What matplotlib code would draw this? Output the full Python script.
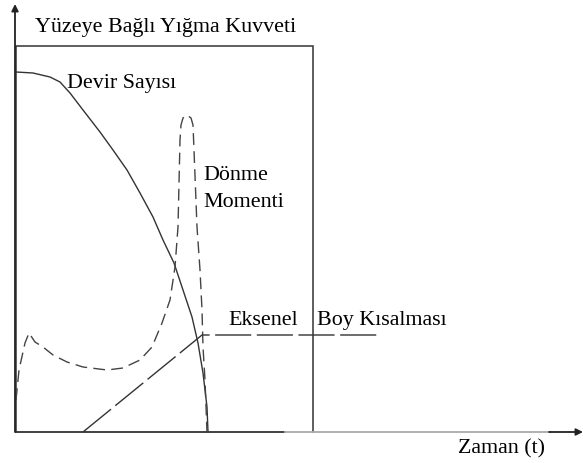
import matplotlib
matplotlib.use("Agg")
import matplotlib.pyplot as plt

# ---- data (time t, value) in schematic units; origin at the axes corner ----
devir_t = [0, 17, 34, 44, 54, 67, 84, 97, 111, 124, 137, 147, 158, 167, 176, 182, 187, 191, 192]
devir_v = [360, 359, 355, 350, 339, 322, 300, 282, 262, 239, 215, 192, 169, 142, 115, 89, 59, 25, 0]

donme_t = [0, 3, 9, 13, 19, 27, 37, 51, 67, 91, 107, 124, 136, 146, 154, 159, 162,
           164, 165, 167, 171, 175, 177, 178, 181, 184, 186, 187, 189, 191]
donme_v = [32, 62, 89, 99, 90, 85, 77, 70, 65, 62, 64, 72, 85, 109, 132, 165, 205,
           292, 307, 314, 317, 314, 307, 282, 205, 162, 122, 85, 52, 0]

eksenel_t = [67, 186, 365]
eksenel_v = [0, 97, 97]

box_t = [0, 0, 297, 297]
box_v = [0, 386, 386, 0]

title = "Yüzeye Bağlı Yığma Kuvveti"
lbl_devir = "Devir Sayısı"
lbl_donme1 = "Dönme"
lbl_donme2 = "Momenti"
lbl_eks1 = "Eksenel"
lbl_eks2 = "Boy Kısalması"
lbl_x = "Zaman (t)"

fig = plt.figure(figsize=(5.83, 4.63), dpi=100)
ax = fig.add_axes([0, 0, 1, 1])
ax.set_xlim(-16, 567)
ax.set_ylim(-31, 432)
ax.axis("off")

font = dict(family=["Liberation Serif", "DejaVu Serif"], fontsize=15.8, color="black")

# box
ax.plot(box_t, box_v, color="#333333", lw=1.1, solid_joinstyle="miter")

# axes arrows
ax.plot([0, 269], [0, 0], color="#333333", lw=1.3)
ax.plot([269, 535], [0, 0], color="#aaaaaa", lw=1.3)
ax.annotate("", xy=(567, 0), xytext=(533, 0),
            arrowprops=dict(arrowstyle="-|>", color="#222222", lw=1.3,
                            mutation_scale=10, shrinkA=0, shrinkB=0))
ax.annotate("", xy=(-1, 428), xytext=(-1, 0),
            arrowprops=dict(arrowstyle="-|>", color="#222222", lw=1.3,
                            mutation_scale=10, shrinkA=0, shrinkB=0))

# curves
ax.plot(devir_t, devir_v, color="#333333", lw=1.0, solid_joinstyle="round")
ax.plot(donme_t, donme_v, color="#444444", lw=1.0, linestyle=(0, (8.5, 4.5)))
ax.plot(eksenel_t, eksenel_v, color="#333333", lw=1.0, linestyle=(0, (26, 4)))

# labels
ax.text(19, 400, title, ha="left", va="baseline", **font)
ax.text(51, 344, lbl_devir, ha="left", va="baseline", **font)
ax.text(187, 252, lbl_donme1, ha="left", va="baseline", **font)
ax.text(187, 225, lbl_donme2, ha="left", va="baseline", **font)
ax.text(212, 107, lbl_eks1, ha="left", va="baseline", **font)
ax.text(301, 107, lbl_eks2, ha="left", va="baseline", **font)
ax.text(442, -21, lbl_x, ha="left", va="baseline", **font)

fig.savefig("out.png", dpi=100)
